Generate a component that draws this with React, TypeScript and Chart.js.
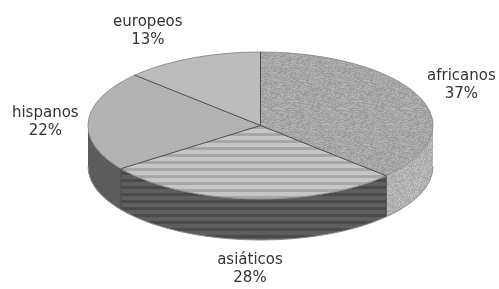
import React, { useEffect, useRef } from 'react';
import { Chart, registerables } from 'chart.js';

Chart.register(...registerables);

// ---- data ----
const CATEGORIES = ['africanos', 'asiáticos', 'hispanos', 'europeos'];
const SHARES = [37, 28, 22, 13];

// ---- layout / style ----
const W = 499;
const H = 289;
const GEOM = { cx: 260.5, cy: 125.5, rx: 172.5, ry: 73.5, depth: 41 };
const LABEL_K = { kx: 1.25, ky: 1.4 };
const LABEL_NUDGE: number[][] = [[3, 0], [3, 0], [0, 3], [-27, 0]];
const LINE_GAP = 9;
const FONT = '15px "DejaVu Sans"';
const TEXT_COLOR = '#333333';
const EDGE_COLOR = '#4a4a4a';

function hash(x: number, y: number): number {
  let h = (Math.imul(x, 374761393) + Math.imul(y, 668265263)) | 0;
  h = Math.imul(h ^ (h >>> 13), 1274126177);
  h = h ^ (h >>> 16);
  return (h >>> 0) / 4294967295;
}

function noiseCanvas(base: number, range: number, seed: number): HTMLCanvasElement {
  const c = document.createElement('canvas');
  c.width = 64;
  c.height = 64;
  const g = c.getContext('2d')!;
  const img = g.createImageData(64, 64);
  for (let y = 0; y < 64; y++) {
    for (let x = 0; x < 64; x++) {
      const v = Math.round(base + (hash(x + seed, y * 3 + seed) - 0.5) * range);
      const i = (y * 64 + x) * 4;
      img.data[i] = v;
      img.data[i + 1] = v;
      img.data[i + 2] = v;
      img.data[i + 3] = 255;
    }
  }
  g.putImageData(img, 0, 0);
  return c;
}

function stripeCanvas(c1: string, c2: string, h1: number, h2: number): HTMLCanvasElement {
  const c = document.createElement('canvas');
  c.width = 4;
  c.height = h1 + h2;
  const g = c.getContext('2d')!;
  g.fillStyle = c1;
  g.fillRect(0, 0, 4, h1);
  g.fillStyle = c2;
  g.fillRect(0, h1, 4, h2);
  return c;
}

export default function App() {
  const ref = useRef<HTMLCanvasElement>(null);

  useEffect(() => {
    document.body.style.margin = '0';
    const canvas = ref.current!;
    const ctx0 = canvas.getContext('2d')!;

    const topNoise = ctx0.createPattern(noiseCanvas(166, 42, 7), 'repeat')!;
    const topStripes = ctx0.createPattern(stripeCanvas('#c6c6c6', '#a6a6a6', 4, 3), 'repeat')!;
    const sideNoise = ctx0.createPattern(noiseCanvas(178, 40, 91), 'repeat')!;
    const sideStripes = ctx0.createPattern(stripeCanvas('#5e5e5e', '#4a4a4a', 4, 3), 'repeat')!;
    const topFills: (string | CanvasPattern)[] = [topNoise, topStripes, '#b3b3b3', '#bcbcbc'];
    const sideFills: (string | CanvasPattern)[] = [sideNoise, sideStripes, '#5c5c5c', '#6a6a6a'];
    const topPatterns = [topNoise, topStripes];

    const ellPt = (a: number, dy = 0) => [GEOM.cx + GEOM.rx * Math.cos(a), GEOM.cy + dy + GEOM.ry * Math.sin(a)];

    const pie3d = {
      id: 'pie3d',
      beforeDatasetsDraw(chart: any) {
        const arcs = chart.getDatasetMeta(0).data;
        if (!arcs.length) return;
        const ctx: CanvasRenderingContext2D = chart.ctx;
        const { cx, cy, rx, ry, depth } = GEOM;
        // side walls (visible front half: 0..PI)
        arcs.forEach((arc: any, i: number) => {
          const p = arc.getProps(['startAngle', 'endAngle'], true);
          const a1 = Math.max(p.startAngle, 0);
          const a2 = Math.min(p.endAngle, Math.PI);
          if (a2 <= a1) return;
          ctx.save();
          ctx.beginPath();
          ctx.ellipse(cx, cy, rx, ry, 0, a1, a2, false);
          ctx.ellipse(cx, cy + depth, rx, ry, 0, a2, a1, true);
          ctx.closePath();
          ctx.fillStyle = sideFills[i];
          ctx.fill();
          ctx.restore();
        });
        // vertical edges at slice boundaries on the front
        ctx.save();
        ctx.strokeStyle = EDGE_COLOR;
        ctx.lineWidth = 1;
        arcs.forEach((arc: any) => {
          const p = arc.getProps(['startAngle'], true);
          const a = p.startAngle;
          if (a > 0 && a < Math.PI) {
            const [x1, y1] = ellPt(a);
            const [x2, y2] = ellPt(a, depth);
            ctx.beginPath();
            ctx.moveTo(x1, y1);
            ctx.lineTo(x2, y2);
            ctx.stroke();
          }
        });
        ctx.strokeStyle = '#8a8a8a';
        ctx.beginPath();
        ctx.ellipse(cx, cy + depth, rx, ry, 0, 0, Math.PI, false);
        ctx.stroke();
        ctx.restore();

        // top face: squash the library's circle into the ellipse
        const g = arcs[0].getProps(['x', 'y', 'outerRadius'], true);
        const r = g.outerRadius;
        topPatterns.forEach((pt) => pt.setTransform(new DOMMatrix().scale(r / rx, r / ry)));
        ctx.save();
        ctx.translate(cx, cy);
        ctx.scale(rx / r, ry / r);
        ctx.translate(-g.x, -g.y);
      },
      afterDatasetsDraw(chart: any) {
        const arcs = chart.getDatasetMeta(0).data;
        if (!arcs.length) return;
        const ctx: CanvasRenderingContext2D = chart.ctx;
        ctx.restore();
        const { cx, cy, rx, ry } = GEOM;
        ctx.save();
        ctx.strokeStyle = '#8e8e8e';
        ctx.lineWidth = 1;
        ctx.beginPath();
        ctx.ellipse(cx, cy, rx, ry, 0, 0, Math.PI * 2);
        ctx.stroke();
        ctx.strokeStyle = EDGE_COLOR;
        arcs.forEach((arc: any) => {
          const p = arc.getProps(['startAngle'], true);
          const [x, y] = ellPt(p.startAngle);
          ctx.beginPath();
          ctx.moveTo(cx, cy);
          ctx.lineTo(x, y);
          ctx.stroke();
        });
        ctx.restore();
      },
      afterDraw(chart: any) {
        const arcs = chart.getDatasetMeta(0).data;
        const ctx: CanvasRenderingContext2D = chart.ctx;
        const { cx, cy, rx, ry, depth } = GEOM;
        ctx.save();
        ctx.font = FONT;
        ctx.fillStyle = TEXT_COLOR;
        ctx.textAlign = 'center';
        ctx.textBaseline = 'middle';
        arcs.forEach((arc: any, i: number) => {
          const p = arc.getProps(['startAngle', 'endAngle'], true);
          const m = (p.startAngle + p.endAngle) / 2;
          const s = Math.sin(m);
          const x = cx + rx * LABEL_K.kx * Math.cos(m) + LABEL_NUDGE[i][0];
          const y = cy + ry * LABEL_K.ky * s + (s > 0 ? depth : 0) + LABEL_NUDGE[i][1];
          ctx.fillText(CATEGORIES[i], x, y - LINE_GAP);
          ctx.fillText(`${SHARES[i]}%`, x, y + LINE_GAP);
        });
        ctx.restore();
      },
    };

    const chart = new Chart(canvas, {
      type: 'pie',
      data: {
        labels: CATEGORIES,
        datasets: [
          {
            data: SHARES,
            backgroundColor: topFills as any,
            borderWidth: 0,
            clip: false as any,
          },
        ],
      },
      options: {
        responsive: false,
        animation: false,
        events: [],
        layout: { padding: 0 },
        plugins: { legend: { display: false }, tooltip: { enabled: false } },
      },
      plugins: [pie3d as any],
    });
    return () => chart.destroy();
  }, []);

  return (
    <div style={{ width: W, height: H, background: '#fff' }}>
      <canvas ref={ref} width={W} height={H} style={{ display: 'block', filter: 'blur(0.4px)' }} />
    </div>
  );
}
